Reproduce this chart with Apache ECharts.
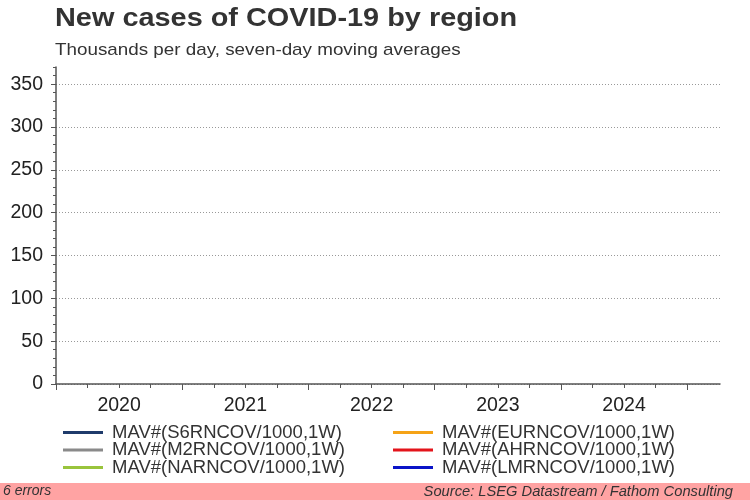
<!DOCTYPE html>
<html lang="en">
<head>
    <meta charset="UTF-8">
    <title>New cases of COVID-19 by region</title>
    <style>
        html, body { margin: 0; padding: 0; background: #fff; }
        #main { width: 750px; height: 500px; }
    </style>
</head>
<body>
    <div id="main"></div>
<script type="text/javascript" src="https://cdn.jsdelivr.net/npm/echarts@6/dist/echarts.min.js"></script>
<script type="text/javascript">
    // series names as shown in the legend (the source returned no values for any of them)
    var seriesNames = [
        'MAV#(S6RNCOV/1000,1W)',
        'MAV#(M2RNCOV/1000,1W)',
        'MAV#(NARNCOV/1000,1W)',
        'MAV#(EURNCOV/1000,1W)',
        'MAV#(AHRNCOV/1000,1W)',
        'MAV#(LMRNCOV/1000,1W)'
    ];
    var seriesColors = ['#1f3b6b', '#8a8a8a', '#99c43c', '#f5a317', '#e3141b', '#0a14c8'];
    var seriesData = [[], [], [], [], [], []];

    // axis ticks and labels
    var yLabels = [0, 50, 100, 150, 200, 250, 300, 350];
    var yMinor = [];
    for (var v = 0; v <= 370; v += 10) yMinor.push(v);
    var years = [2020, 2021, 2022, 2023, 2024];
    var yearTicks = [2020, 2021, 2022, 2023, 2024, 2025];
    var quarterTicks = [];
    for (var q = 2020; q <= 2025; q += 0.25) quarterTicks.push(q);
    var yearLabelPos = years.map(function (y) { return y + 0.5; });

    var font = 'Liberation Sans, Arial, sans-serif';
    var myChart = echarts.init(document.getElementById('main'));

    var series = [];
    for (var i = 0; i < seriesNames.length; i++) {
        series.push({
            name: seriesNames[i],
            type: 'line',
            showSymbol: false,
            color: seriesColors[i],
            lineStyle: { width: 3 },
            data: seriesData[i]
        });
    }

    var legendBase = {
        orient: 'vertical',
        top: 423,
        icon: 'rect',
        itemWidth: 40,
        itemHeight: 3,
        itemGap: -1.5,
        padding: 0,
        textStyle: { fontFamily: font, fontSize: 18.5, color: '#333', lineHeight: 18, padding: [0, 0, 0, 4] }
    };

    var option = {
        animation: false,
        legend: [
            Object.assign({}, legendBase, { left: 63, data: seriesNames.slice(0, 3) }),
            Object.assign({}, legendBase, { left: 393, data: seriesNames.slice(3, 6) })
        ],
        grid: { left: 56, right: 30, top: 67, bottom: 116, containLabel: false },
        xAxis: [{
            type: 'value',
            min: 2020,
            max: 2025.26,
            axisLine: { lineStyle: { color: '#555', width: 1.5 } },
            axisTick: { customValues: quarterTicks, length: 4, lineStyle: { color: '#555' } },
            axisLabel: {
                customValues: yearLabelPos,
                formatter: function (v) { return Math.floor(v); },
                fontFamily: font, fontSize: 19.5, color: '#222', margin: 12
            },
            splitLine: { show: false }
        }, {
            type: 'value',
            min: 2020,
            max: 2025.26,
            position: 'bottom',
            axisLine: { show: false },
            axisTick: { customValues: yearTicks, length: 6, lineStyle: { color: '#555' } },
            axisLabel: { show: false },
            splitLine: { show: false }
        }],
        yAxis: [{
            type: 'value',
            min: 0,
            max: 370,
            interval: 50,
            axisLine: { show: true, lineStyle: { color: '#555', width: 1.5 } },
            axisTick: { customValues: yLabels, length: 5, lineStyle: { color: '#555' } },
            axisLabel: {
                customValues: yLabels,
                fontFamily: font, fontSize: 19.5, color: '#222', margin: 13
            },
            splitLine: {
                show: true,
                lineStyle: { color: '#999', type: [1, 2], width: 1 }
            }
        }, {
            type: 'value',
            min: 0,
            max: 370,
            position: 'left',
            axisLine: { show: false },
            axisTick: { show: true, customValues: yMinor, length: 3, lineStyle: { color: '#555' } },
            axisLabel: { show: false },
            splitLine: { show: false }
        }],
        graphic: [{
            type: 'text',
            x: 55,
            y: 7,
            scaleX: 1.155,
            style: {
                text: 'New cases of COVID-19 by region',
                font: 'bold 25px ' + font, fill: '#333'
            }
        }, {
            type: 'text',
            x: 55,
            y: 42,
            scaleX: 1.107,
            style: {
                text: 'Thousands per day, seven-day moving averages',
                font: '17px ' + font, fill: '#333'
            }
        }, {
            type: 'rect',
            left: 0,
            top: 483,
            shape: { width: 750, height: 17 },
            style: { fill: '#ffa3a3' },
            silent: true
        }, {
            type: 'text',
            left: 3,
            top: 484,
            style: { text: '6 errors', font: 'italic 14px ' + font, fill: '#333' }
        }, {
            type: 'text',
            right: 17,
            top: 484,
            style: { text: 'Source: LSEG Datastream / Fathom Consulting', font: 'italic 14.7px ' + font, fill: '#333' }
        }],
        series: series
    };
    myChart.setOption(option);
</script>
</body>
</html>
